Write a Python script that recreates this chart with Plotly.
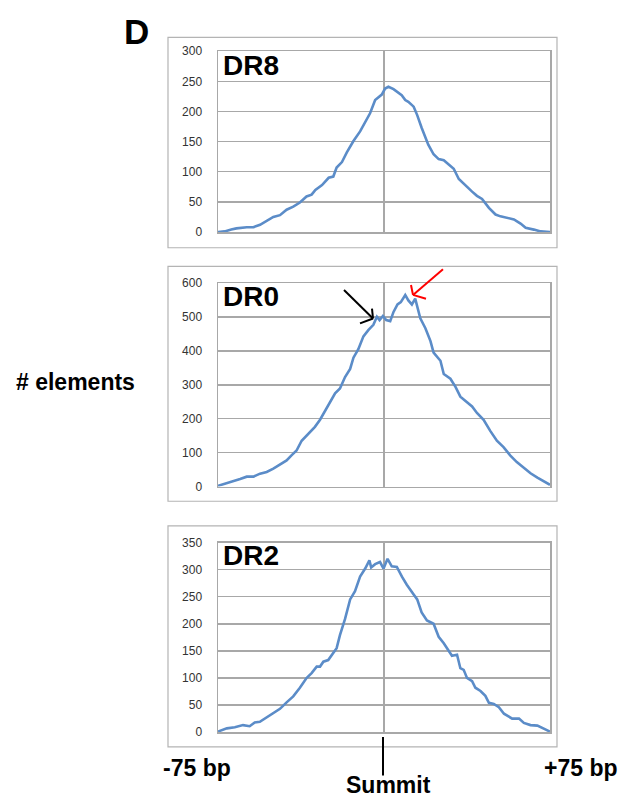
import plotly.graph_objects as go

# ---------------- data ----------------
dr8_x = [-75, -72, -69, -66.7, -62, -59, -56, -53, -50, -47, -44, -41, -38, -35, -32.7, -31, -28, -25,
         -22.9, -21.4, -19, -16.8, -13.8, -10.8, -8.5, -6.3, -4, -2.5, -1, 0.5, 2, 4.3, 6.6, 8, 9.6, 11,
         13.4, 15, 17, 18.7, 20, 22.4, 24.7, 27, 30, 31.5, 33.8, 36, 38.3, 39.8, 42, 44.3, 47.4, 50.4,
         52.6, 55.7, 58.7, 61.7, 64, 67.7, 70.8, 75]
dr8_y = [0, 1, 4, 6, 8, 8, 12, 18, 25, 28, 37, 42, 49, 59, 62, 70, 78, 90,
         92, 107, 116, 132, 151, 167, 182, 197, 219, 224, 228, 238, 241, 237, 230, 227, 219, 216,
         208, 194, 173, 156, 145, 129, 121, 119, 110, 105, 88, 80, 72, 67, 60, 55, 40, 29,
         26, 23, 21, 14, 7, 4, 1, 0]

dr0_x = [-75, -71, -68, -65, -62, -59, -56, -53, -50, -47, -44, -41.8, -39.5, -37.2, -34.2, -31.2,
         -28.9, -26.7, -24.4, -22.1, -19.9, -17.6, -15.3, -13.8, -11.6, -9.3, -7, -4.8, -3.2, -2,
         -0.5, 1, 2.8, 4.3, 6.1, 7.6, 9.6, 11, 12.6, 14.1, 16.4, 18.7, 21, 22.4, 25.5, 27, 30, 32.3,
         34.5, 37.5, 39.8, 42, 45, 48, 51, 54, 57, 60, 63.2, 66.2, 69.3, 72.3, 75]
dr0_y = [2, 10, 14, 22, 29, 29, 38, 43, 53, 64, 77, 92, 106, 135, 154, 176,
         197, 222, 246, 275, 289, 323, 347, 380, 405, 443, 462, 477, 501, 491,
         503, 491, 488, 515, 537, 544, 565, 549, 537, 554, 496, 467, 429, 395, 371, 332, 318, 294,
         265, 248, 236, 217, 197, 164, 135, 116, 92, 72, 55, 39, 26, 16, 5]

dr2_x = [-75, -71, -67.4, -63.7, -60.7, -58.4, -56.1, -53.1, -50, -47, -44, -41, -38, -35, -32.7,
         -30.4, -28.9, -27.4, -25.2, -22.9, -21.4, -19.9, -17.6, -15.3, -13.1, -10.8, -8.5, -6.6,
         -5.8, -4, -1.8, -0.2, 1.6, 3.5, 5.8, 8.1, 10.3, 13.4, 15, 17, 19.4, 22.4, 24.7, 27, 29.2,
         30.7, 33, 34.5, 36, 37.5, 39.8, 41.3, 43.6, 45.8, 47.4, 49.6, 51.9, 54.2, 57.9, 61, 63.2,
         66.2, 69.3, 72.3, 75]
dr2_y = [1, 7, 9, 13, 11, 18, 19, 27, 34, 43, 55, 66, 82, 100, 109,
         121, 121, 130, 133, 146, 155, 179, 209, 245, 260, 287, 302, 317,
         304, 310, 314, 302, 320, 306, 305, 287, 272, 254, 245, 221, 206, 200, 176, 164, 149,
         141, 143, 118, 115, 100, 94, 82, 76, 67, 54, 52, 46, 34, 25, 25, 17,
         13, 12, 7, 1]

panel_names = ["DR8", "DR0", "DR2"]
y_max = [300, 600, 350]
y_step = [50, 100, 50]

# ---------------- styling / layout ----------------
W, H = 625, 804
BLUE = "#5b8cc8"
GRID = "#a8a8a8"
FRAME = "#b4b4b4"
LBL = "Liberation Sans, Arial, sans-serif"


def px(x):
    return x / W


def py(y):
    return 1 - y / H


plot_x = (218, 550)
plot_y = [(45, 229), (281, 488), (545, 738)]
frames = [(168, 31, 557, 245), (168, 264, 557, 503), (168, 528, 557, 753)]
name_pos = [(221, 60), (221, 295), (221, 558)]

fig = go.Figure()
series = [(dr8_x, dr8_y), (dr0_x, dr0_y), (dr2_x, dr2_y)]
layout = dict(
    width=W, height=H, margin=dict(l=0, r=0, t=0, b=0),
    paper_bgcolor="white", plot_bgcolor="white", showlegend=False,
)
shapes = []
annotations = []
for i, (xs, ys) in enumerate(series):
    sfx = "" if i == 0 else str(i + 1)
    fig.add_trace(go.Scatter(x=xs, y=ys, mode="lines", xaxis="x" + sfx, yaxis="y" + sfx,
                             line=dict(color=BLUE, width=2.6), hoverinfo="skip"))
    layout["xaxis" + sfx] = dict(
        domain=[px(plot_x[0]), px(plot_x[1])], anchor="y" + sfx, range=[-75, 75],
        tickvals=[0], showticklabels=False, ticks="", showgrid=True, gridcolor=GRID, gridwidth=1.5,
        showline=True, mirror=True, linecolor=GRID, linewidth=1.5, zeroline=False, fixedrange=True)
    layout["yaxis" + sfx] = dict(
        domain=[py(plot_y[i][1]), py(plot_y[i][0])], anchor="x" + sfx,
        range=[0, y_max[i]], dtick=y_step[i], tick0=0, showgrid=True, gridcolor=GRID, gridwidth=1.5,
        showline=True, mirror=True, linecolor=GRID, linewidth=1.5, zeroline=False,
        ticks="", ticklabelstandoff=12, tickfont=dict(family=LBL, size=12, color="#333333"),
        fixedrange=True)
    x0, y0, x1, y1 = frames[i]
    shapes.append(dict(type="rect", xref="paper", yref="paper", x0=px(x0), x1=px(x1),
                       y0=py(y1), y1=py(y0), line=dict(color=FRAME, width=1.2)))
    annotations.append(dict(text="<b>%s</b>" % panel_names[i], xref="paper", yref="paper",
                            x=px(name_pos[i][0]), y=py(name_pos[i][1]), xanchor="left", yanchor="middle",
                            showarrow=False, font=dict(family=LBL, size=28, color="black")))


def seg(x0, y0, x1, y1, color, width=2):
    shapes.append(dict(type="line", xref="paper", yref="paper", x0=px(x0), y0=py(y0),
                       x1=px(x1), y1=py(y1), line=dict(color=color, width=width)))


# black arrow
seg(344, 288, 373, 317, "black")
seg(373, 317, 360, 322, "black")
seg(373, 317, 372, 307, "black")
# red arrow
seg(443, 267, 413, 293, "red")
seg(413, 293, 411, 283, "red")
seg(413, 293, 426, 297, "red")
# summit marker
seg(383, 743, 383, 782, "black", 2)


def text(t, x, y, size, xanchor="center"):
    annotations.append(dict(text="<b>%s</b>" % t, xref="paper", yref="paper", x=px(x), y=py(y),
                            xanchor=xanchor, yanchor="middle", showarrow=False,
                            font=dict(family=LBL, size=size, color="black")))


text("D", 136, 25, 35)
text("# elements", 75, 382, 23)
text("-75 bp", 197, 774, 23)
text("+75 bp", 581, 774, 23)
text("Summit", 389, 792, 23)

layout["shapes"] = shapes
layout["annotations"] = annotations
fig.update_layout(**layout)
fig.write_html("out.html", config={"displayModeBar": False, "staticPlot": True},
               post_script="document.body.style.margin='0';document.body.style.overflow='hidden';")
